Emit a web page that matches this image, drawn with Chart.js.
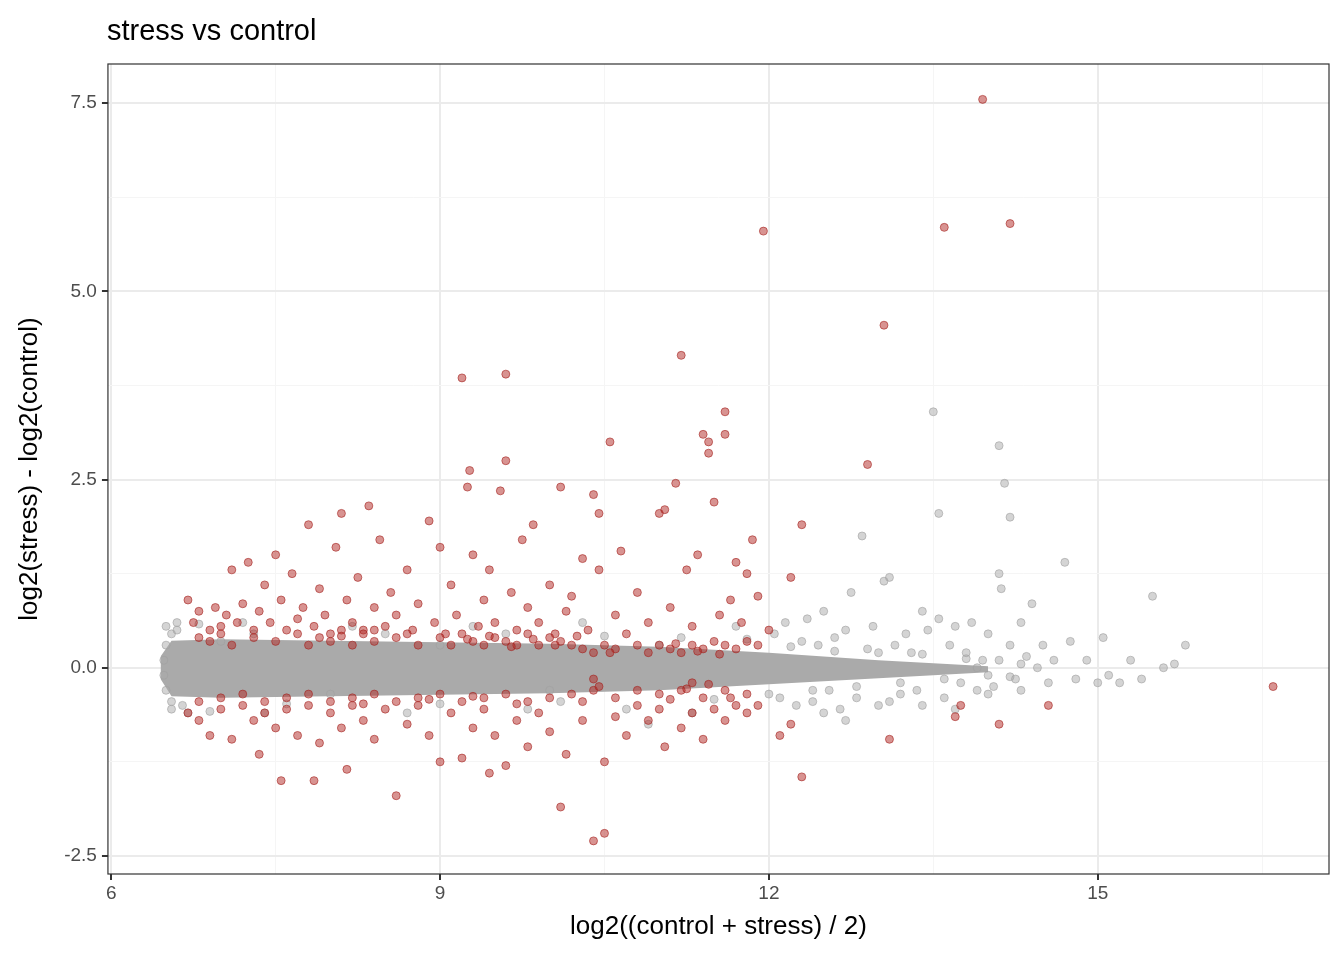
<!DOCTYPE html>
<html><head><meta charset="utf-8">
<script src="https://cdn.jsdelivr.net/npm/chart.js@4"></script>
<style>body{margin:0;background:#fff}#wrap{width:1344px;height:960px}</style>
</head><body><div id="wrap"><canvas id="c"></canvas></div>
<script>
// dense core of the grey cloud, read as an envelope
const coreX     = [6.45, 6.55, 7.0, 8.0, 9.0, 10.0, 11.0, 12.0, 12.5, 13.0, 13.5, 14.0];
const coreUpper = [0.15, 0.36, 0.38, 0.36, 0.34, 0.32, 0.28, 0.2, 0.15, 0.1, 0.06, 0.02];
const coreLower = [-0.15, -0.38, -0.4, -0.38, -0.36, -0.34, -0.3, -0.22, -0.18, -0.14, -0.1, -0.06];

// grey (not significant) points outside the core
const greyPts = "6.5,0.55 6.55,-0.55 6.6,0.6 6.7,-0.6 6.8,0.58 6.9,-0.58 7.2,0.6 7.4,-0.6 8.2,0.55 8.7,-0.6 9.3,0.55 9.8,-0.55 10.3,0.6 10.7,-0.55 " +
  "6.5,0.3 6.5,-0.3 6.48,0.1 6.48,-0.1 6.55,0.45 6.55,-0.45 6.6,0.5 6.65,-0.5 7.3,0.45 7.6,-0.48 8.5,0.45 9.0,-0.48 9.6,0.45 10.1,-0.45 10.5,0.42 " +
  "11.2,0.4 11.5,-0.42 11.8,0.38 12.0,-0.35 12.2,0.28 12.4,-0.3 12.6,0.22 12.8,-0.25 13.0,0.2 13.2,-0.2 13.4,0.18 13.6,-0.15 13.8,0.12 14.0,-0.1 " +
  "14.1,0.1 14.2,-0.12 13.9,0.0 14.3,0.05 " +
  "10.9,-0.75 11.3,-0.6 11.7,0.55 12.05,0.45 12.1,-0.4 12.15,0.6 12.25,-0.5 12.3,0.35 12.35,0.65 12.4,-0.45 12.45,0.3 12.5,0.75 12.55,-0.3 12.6,0.4 " +
  "12.65,-0.55 12.7,0.5 12.75,1.0 12.8,-0.4 12.85,1.75 12.9,0.25 12.95,0.55 13.0,-0.5 13.05,1.15 13.1,1.2 13.15,0.3 13.2,-0.35 13.25,0.45 13.3,0.2 " +
  "13.35,-0.3 13.4,0.75 13.45,0.5 13.5,3.4 13.55,2.05 13.55,0.65 13.6,-0.4 13.65,0.3 13.7,0.55 13.75,-0.2 13.8,0.2 13.85,0.6 13.9,-0.3 13.95,0.1 " +
  "14.0,0.45 14.05,-0.25 14.1,2.95 14.1,1.25 14.12,1.05 14.15,2.45 14.2,2.0 14.2,0.3 14.25,-0.15 14.3,0.6 14.35,0.15 14.4,0.85 14.45,0.0 14.5,0.3 " +
  "14.55,-0.2 14.6,0.1 14.7,1.4 14.75,0.35 14.8,-0.15 14.9,0.1 15.0,-0.2 15.05,0.4 15.1,-0.1 15.2,-0.2 15.3,0.1 15.4,-0.15 15.5,0.95 15.6,0.0 " +
  "15.7,0.05 15.8,0.3 12.5,-0.6 12.7,-0.7 13.1,-0.45 13.4,-0.5 13.7,-0.55 14.0,-0.35 14.3,-0.3 7.0,0.35 8.0,-0.35 9.0,0.3 10.0,-0.3 11.0,0.3";

// red (significant) points
const redPts = "6.7,0.9 6.75,0.6 6.8,0.75 6.9,0.5 6.95,0.8 7.0,0.55 7.05,0.7 7.1,1.3 7.15,0.6 7.2,0.85 7.25,1.4 7.3,0.5 7.35,0.75 7.4,1.1 7.45,0.6 " +
  "7.5,1.5 7.55,0.9 7.6,0.5 7.65,1.25 7.7,0.65 7.75,0.8 7.8,1.9 7.85,0.55 7.9,1.05 7.95,0.7 8.0,0.45 8.05,1.6 8.1,2.05 8.15,0.9 8.2,0.6 8.25,1.2 " +
  "8.3,0.5 8.35,2.15 8.4,0.8 8.45,1.7 8.5,0.55 8.55,1.0 8.6,0.7 8.7,1.3 8.75,0.5 8.8,0.85 8.9,1.95 8.95,0.6 9.0,1.6 9.05,0.45 9.1,1.1 9.15,0.7 " +
  "9.2,3.85 9.25,2.4 9.27,2.62 9.3,1.5 9.35,0.55 9.4,0.9 9.45,1.3 9.5,0.6 9.55,2.35 9.6,3.9 9.6,2.75 9.65,1.0 9.7,0.5 9.75,1.7 9.8,0.8 9.85,1.9 " +
  "9.9,0.6 10.0,1.1 10.05,0.45 10.1,2.4 10.15,0.75 10.2,0.95 10.3,1.45 10.35,0.5 10.4,2.3 10.45,2.05 10.45,1.3 10.55,3.0 10.6,0.7 10.65,1.55 " +
  "10.7,0.45 10.8,1.0 10.9,0.6 11.0,2.05 11.05,2.1 11.1,0.8 11.15,2.45 11.2,4.15 11.25,1.3 11.3,0.55 11.35,1.5 11.4,3.1 11.45,3.0 11.45,2.85 " +
  "11.5,2.2 11.55,0.7 11.6,3.4 11.6,3.1 11.65,0.9 11.7,1.4 11.75,0.6 11.8,1.25 11.85,1.7 11.9,0.95 11.95,5.8 12.0,0.5 12.2,1.2 12.3,1.9 " +
  "13.05,4.55 12.9,2.7 13.6,5.85 13.95,7.55 14.2,5.9 " +
  "6.8,0.4 6.9,0.35 7.0,0.45 7.1,0.3 7.3,0.4 7.5,0.35 7.7,0.45 7.8,0.3 7.9,0.4 8.0,0.35 8.1,0.5 8.2,0.3 8.3,0.45 8.4,0.35 8.6,0.4 8.8,0.3 " +
  "9.0,0.4 9.1,0.3 9.2,0.45 9.3,0.35 9.4,0.3 9.5,0.4 9.6,0.35 9.7,0.3 9.8,0.45 9.9,0.3 10.0,0.4 10.1,0.35 10.2,0.3 10.3,0.25 10.4,0.2 10.5,0.3 " +
  "10.6,0.25 10.8,0.3 10.9,0.2 11.0,0.3 11.1,0.25 11.2,0.2 11.3,0.3 11.4,0.25 11.5,0.35 11.6,0.3 11.7,0.25 11.8,0.35 11.9,0.3 " +
  "8.1,0.42 8.4,0.5 8.7,0.45 9.25,0.38 9.45,0.42 9.65,0.28 9.85,0.38 10.05,0.3 10.25,0.42 10.55,0.2 11.15,0.32 11.35,0.22 11.55,0.18 " +
  "6.7,-0.6 6.8,-0.7 6.9,-0.9 7.0,-0.55 7.1,-0.95 7.2,-0.5 7.3,-0.7 7.35,-1.15 7.4,-0.6 7.5,-0.8 7.55,-1.5 7.6,-0.55 7.7,-0.9 7.8,-0.5 7.85,-1.5 " +
  "7.9,-1.0 8.0,-0.6 8.1,-0.8 8.15,-1.35 8.2,-0.5 8.3,-0.7 8.4,-0.95 8.5,-0.55 8.6,-1.7 8.7,-0.75 8.8,-0.5 8.9,-0.9 9.0,-1.25 9.1,-0.6 9.2,-1.2 " +
  "9.3,-0.8 9.4,-0.55 9.45,-1.4 9.5,-0.9 9.6,-1.3 9.7,-0.7 9.8,-1.05 9.9,-0.6 10.0,-0.85 10.1,-1.85 10.15,-1.15 10.3,-0.7 10.4,-2.3 10.5,-2.2 " +
  "10.5,-1.25 10.6,-0.65 10.7,-0.9 10.8,-0.5 10.9,-0.7 11.0,-0.55 11.05,-1.05 11.2,-0.8 11.3,-0.6 11.4,-0.95 11.5,-0.55 11.6,-0.7 11.7,-0.5 " +
  "11.8,-0.6 11.9,-0.5 12.1,-0.9 12.2,-0.75 12.3,-1.45 13.1,-0.95 13.7,-0.65 13.75,-0.5 14.1,-0.75 14.55,-0.5 16.6,-0.25 " +
  "6.8,-0.45 7.0,-0.4 7.2,-0.35 7.4,-0.45 7.6,-0.4 7.8,-0.35 8.0,-0.45 8.2,-0.4 8.4,-0.35 8.6,-0.45 8.8,-0.4 9.0,-0.35 9.2,-0.45 9.4,-0.4 " +
  "9.6,-0.35 9.8,-0.45 10.0,-0.4 10.2,-0.35 10.4,-0.3 10.6,-0.4 10.8,-0.3 11.0,-0.35 11.2,-0.3 11.4,-0.4 11.6,-0.3 11.8,-0.35 10.4,-0.15 11.3,-0.2 " +
  "8.3,-0.48 8.9,-0.42 9.3,-0.38 9.7,-0.48 10.3,-0.45 10.45,-0.25 11.1,-0.42 11.25,-0.28 11.45,-0.22 11.65,-0.4";

function parse(s) {
  return s.trim().split(/\s+/).map(p => { const [x, y] = p.split(',').map(Number); return {x, y}; });
}
const xMajors = [6, 9, 12, 15];
const yMajors = [-2.5, 0, 2.5, 5, 7.5];
const isMajor = (v, list) => list.some(m => Math.abs(m - v) < 1e-6);

const frame = {
  id: 'frame',
  afterDraw(chart) {
    const a = chart.chartArea, c = chart.ctx;
    c.save(); c.strokeStyle = '#333'; c.lineWidth = 1.2;
    c.strokeRect(a.left, a.top, a.right - a.left, a.bottom - a.top);
    c.fillStyle = '#000'; c.font = '29px "Liberation Sans"'; c.textBaseline = 'alphabetic';
    c.fillText('stress vs control', a.left - 1, 40);
    c.restore();
  }
};

new Chart(document.getElementById('c'), {
  type: 'scatter',
  data: {
    datasets: [
      { data: coreX.map((x, i) => ({x, y: coreUpper[i]})), showLine: true, pointRadius: 0,
        borderWidth: 0, fill: '+1', backgroundColor: 'rgb(170,170,170)', order: 3 },
      { data: coreX.map((x, i) => ({x, y: coreLower[i]})), showLine: true, pointRadius: 0,
        borderWidth: 0, backgroundColor: 'rgb(170,170,170)', order: 3 },
      { data: parse(greyPts), pointRadius: 4, borderWidth: 1,
        backgroundColor: 'rgba(169,169,169,0.5)', borderColor: 'rgba(160,160,160,0.6)', order: 2 },
      { data: parse(redPts), pointRadius: 4, borderWidth: 1,
        backgroundColor: 'rgba(178,40,36,0.5)', borderColor: 'rgba(165,35,32,0.6)', order: 1 }
    ]
  },
  options: {
    responsive: true, maintainAspectRatio: false, animation: false,
    layout: { padding: { left: 8, right: 15, top: 64, bottom: 14 } },
    plugins: { legend: { display: false }, tooltip: { enabled: false } },
    scales: {
      x: {
        min: 5.97, max: 17.11,
        afterBuildTicks: s => { s.ticks = [6, 7.5, 9, 10.5, 12, 13.5, 15, 16.5].map(v => ({value: v})); },
        ticks: { autoSkip: false, maxRotation: 0, color: '#4D4D4D', font: { family: 'Liberation Sans', size: 19 },
          padding: 2, callback: v => isMajor(v, xMajors) ? String(v) : '' },
        grid: { color: c => isMajor(c.tick.value, xMajors) ? '#EBEBEB' : '#F5F5F5',
          lineWidth: c => isMajor(c.tick.value, xMajors) ? 2 : 1,
          tickColor: c => isMajor(c.tick.value, xMajors) ? '#333' : 'rgba(0,0,0,0)', tickLength: 6 },
        border: { display: false },
        title: { display: true, text: 'log2((control + stress) / 2)', color: '#000',
          font: { family: 'Liberation Sans', size: 26 }, padding: { top: 4 } }
      },
      y: {
        min: -2.74, max: 8.02,
        afterBuildTicks: s => { s.ticks = [-2.5, -1.25, 0, 1.25, 2.5, 3.75, 5, 6.25, 7.5].map(v => ({value: v})); },
        ticks: { autoSkip: false, color: '#4D4D4D', font: { family: 'Liberation Sans', size: 19 },
          padding: 5, callback: v => isMajor(v, yMajors) ? v.toFixed(1) : '' },
        grid: { color: c => isMajor(c.tick.value, yMajors) ? '#EBEBEB' : '#F5F5F5',
          lineWidth: c => isMajor(c.tick.value, yMajors) ? 2 : 1,
          tickColor: c => isMajor(c.tick.value, yMajors) ? '#333' : 'rgba(0,0,0,0)', tickLength: 6 },
        border: { display: false },
        title: { display: true, text: 'log2(stress) - log2(control)', color: '#000',
          font: { family: 'Liberation Sans', size: 26 }, padding: { top: 6, bottom: 14 } }
      }
    }
  },
  plugins: [frame]
});
</script></body></html>
